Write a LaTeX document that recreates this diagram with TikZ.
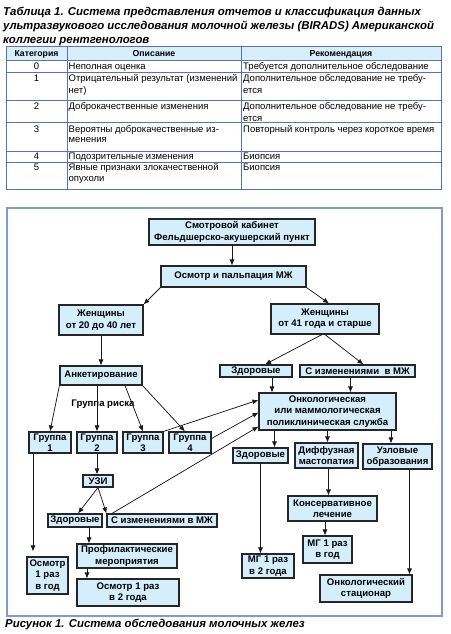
\documentclass[tikz,border=0pt]{standalone}
\usepackage{fontspec}
\setmainfont{Liberation Sans}
\usetikzlibrary{arrows.meta,calc}
\definecolor{nodefill}{HTML}{D5EEFB}
\definecolor{tabline}{HTML}{5574B8}
\definecolor{framecol}{HTML}{7F9BD3}
\definecolor{hdrfill}{HTML}{D8EEFB}
\tikzset{
 box/.style={draw=black!85, line width=1.1pt, fill=nodefill, inner sep=0pt, align=center, font=\bfseries\fontsize{9.6}{11.3}\selectfont},
 arr/.style={-{Latex[length=6pt,width=5pt]}, line width=0.75pt, black!90},
 tabtxt/.style={inner sep=0pt, font=\fontsize{9.5}{11}\selectfont},
 tabhdr/.style={inner sep=0pt, font=\bfseries\fontsize{8.7}{11}\selectfont},
 ttl/.style={inner sep=0pt, anchor=base west, font=\bfseries\itshape\fontsize{11.4}{14}\selectfont},
 lbl/.style={inner sep=0pt, font=\bfseries\fontsize{9.6}{11}\selectfont},
}
\newcommand\bx[6]{\node[box, minimum width=#4pt, minimum height=#5pt] (#1) at (#2,#3) {#6};}
\newcommand\tl[3]{\node[tabtxt, anchor=base west] at (#1,#2) {#3};}
\begin{document}
\begin{tikzpicture}[x=1pt,y=-1pt]
\useasboundingbox (0,0) rectangle (450,634);
% title
\node[ttl] (t1) at (3,16) {Таблица 1. Система представления отчетов и классификация данных};
\node[ttl] (t2) at (3,30) {ультразвукового исследования молочной железы (BIRADS) Американской};
\node[ttl] (t3) at (3,44) {коллегии рентгенологов};
% table
\draw[tabline, line width=1pt, fill=hdrfill] (6,47) rectangle (441,61);
\draw[tabline, line width=1pt] (6,47) rectangle (441,189.5);
\foreach \yy in {72,100,122,151,162} \draw[tabline, line width=1pt] (6,\yy) -- (441,\yy);
\foreach \xx in {67,241} \draw[tabline, line width=1pt] (\xx,47) -- (\xx,189.5);
\node[tabhdr, anchor=base] at (36.5,56.8) {Категория};
\node[tabhdr, anchor=base] at (154,56.8) {Описание};
\node[tabhdr, anchor=base] at (341,56.8) {Рекомендация};
\foreach \c/\yy in {0/69.5,1/81.8,2/109.5,3/132.8,4/159.5,5/170.8}
  \node[tabtxt, anchor=base] at (36.5,\yy) {\c};
\tl{68.5}{69.5}{Неполная оценка}
\tl{243}{69.5}{Требуется дополнительное обследование}
\tl{68.5}{81.8}{Отрицательный результат (изменений}
\tl{68.5}{93.5}{нет)}
\tl{243}{81.8}{Дополнительное обследование не требу-}
\tl{243}{93.5}{ется}
\tl{68.5}{109.5}{Доброкачественные изменения}
\tl{243}{109.5}{Дополнительное обследование не требу-}
\tl{243}{121.2}{ется}
\tl{68.5}{132.8}{Вероятны доброкачественные из-}
\tl{68.5}{142.8}{менения}
\tl{243}{132.8}{Повторный контроль через короткое время}
\tl{68.5}{159.5}{Подозрительные изменения}
\tl{243}{159.5}{Биопсия}
\tl{68.5}{170.8}{Явные признаки злокачественной}
\tl{68.5}{181.2}{опухоли}
\tl{243}{170.8}{Биопсия}
% frame
\draw[framecol, line width=1.3pt] (7,208) rectangle (442,616);
% nodes
\bx{smk}{232}{232}{166}{26}{Смотровой кабинет\\Фельдшерско-акушерский пункт}
\bx{osm}{233.5}{276.5}{145}{21}{Осмотр и пальпация МЖ}
\bx{zha}{101}{320}{84}{30}{Женщины\\от 20 до 40 лет}
\bx{zhb}{325}{319}{108}{30}{Женщины\\от 41 года и старше}
\bx{ank}{101}{375.5}{82}{19}{Анкетирование}
\bx{zdra}{256}{371}{72}{12}{Здоровые}
\bx{izma}{357.5}{371}{115}{12}{С изменениями~ в МЖ}
\bx{onk}{327.5}{411.5}{137}{37}{Онкологическая\\или маммологическая\\поликлиническая служба}
\bx{ga}{50}{442.5}{42}{21}{Группа\\1}
\bx{gb}{97}{442.5}{40}{21}{Группа\\2}
\bx{gc}{143}{442.5}{40}{21}{Группа\\3}
\bx{gd}{190}{442.5}{42}{21}{Группа\\4}
\bx{uzi}{98}{481}{30}{12}{УЗИ}
\bx{zdrb}{75}{520.5}{54}{13}{Здоровые}
\bx{izmb}{162}{520.5}{110}{13}{С изменениями в МЖ}
\bx{prof}{127}{556}{100}{24}{Профилактические\\мероприятия}
\bx{osmb}{128}{592.5}{102}{27}{Осмотр 1 раз\\в 2 года}
\bx{osma}{47.5}{575.5}{41}{37}{Осмотр\\1 раз\\в год}
\bx{zdrc}{260.5}{455.5}{55}{15}{Здоровые}
\bx{dif}{326.5}{455.5}{63}{25}{Диффузная\\мастопатия}
\bx{uzl}{397.5}{456.5}{69}{25}{Узловые\\образования}
\bx{mgb}{268}{566}{52}{24}{МГ 1 раз\\в 2 года}
\bx{kons}{332.5}{508.5}{89}{25}{Консервативное\\лечение}
\bx{mga}{327.5}{549.5}{49}{27}{МГ 1 раз\\в год}
\bx{ost}{366}{588.5}{92}{27}{Онкологический\\стационар}
\node[lbl] (risk) at (103,404) {Группа риска};
% connectors
\draw[arr] (smk.south) -- (smk.south |- osm.north);
\draw[arr] (osm.south west) -- (zha.north east);
\draw[arr] (osm.south east) -- ([xshift=4pt]zhb.north);
\draw[arr] (zha.south) -- (ank.north);
\draw[arr] ([xshift=-3pt]zhb.south) -- ([xshift=9pt]zdra.north);
\draw[arr] ([xshift=0pt]zhb.south) -- ([xshift=6pt]izma.north);
\draw[arr] ([xshift=16pt]zdra.south) -- ([xshift=16pt]zdra.south |- onk.north);
\draw[arr] ([xshift=-7pt]izma.south) -- ([xshift=-7pt]izma.south |- onk.north);
\draw[arr] (ank.south west) -- (ga.north);
\draw[arr] (gb.north |- ank.south) -- (gb.north);
\draw[arr] ([xshift=24pt]ank.south) -- (gc.north);
\draw[arr] (ank.south east) -- ([xshift=-5pt]gd.north);
\draw[arr] (gc.north east) -- ([yshift=11.5pt]onk.west);
\draw[arr] ([yshift=4pt]gd.east) -- ([yshift=-1pt]onk.west);
\draw[arr] ([xshift=-50pt]izmb.north) -- ([yshift=4pt]onk.south west);
\draw[arr] ([xshift=-17pt]ga.south) -- ([xshift=-17pt,yshift=5pt]ga.south |- osma.north);
\draw[arr] (gb.south) -- (gb.south |- uzi.north);
\draw[arr] (uzi.south) -- ([xshift=3pt]zdrb.north);
\draw[arr] (uzi.south) -- (izmb.north west);
\draw[arr] ([xshift=14pt]zdrb.south) -- ([xshift=14pt]zdrb.south |- prof.north);
\draw[arr] ([xshift=-40pt]prof.south) -- ([xshift=-40pt]prof.south |- osmb.north);
\draw[arr] ([xshift=-53pt]onk.south) -- ([xshift=-53pt]onk.south |- zdrc.north);
\draw[arr] (onk.south) -- (onk.south |- dif.north);
\draw[arr] ([xshift=63.5pt]onk.south) -- ([xshift=63.5pt]onk.south |- uzl.north);
\draw[arr] (zdrc.south) -- (zdrc.south |- mgb.north);
\draw[arr] ([xshift=2pt]dif.south) -- ([xshift=2pt]dif.south |- kons.north);
\draw[arr] ([xshift=-7.5pt]kons.south) -- ([xshift=-7.5pt]kons.south |- mga.north);
\draw[arr] ([xshift=12pt]uzl.south) -- ([xshift=12pt]uzl.south |- ost.north);
% caption
\node[ttl] (cap) at (5,627) {Рисунок 1. Система обследования молочных желез};
\end{tikzpicture}
\end{document}
